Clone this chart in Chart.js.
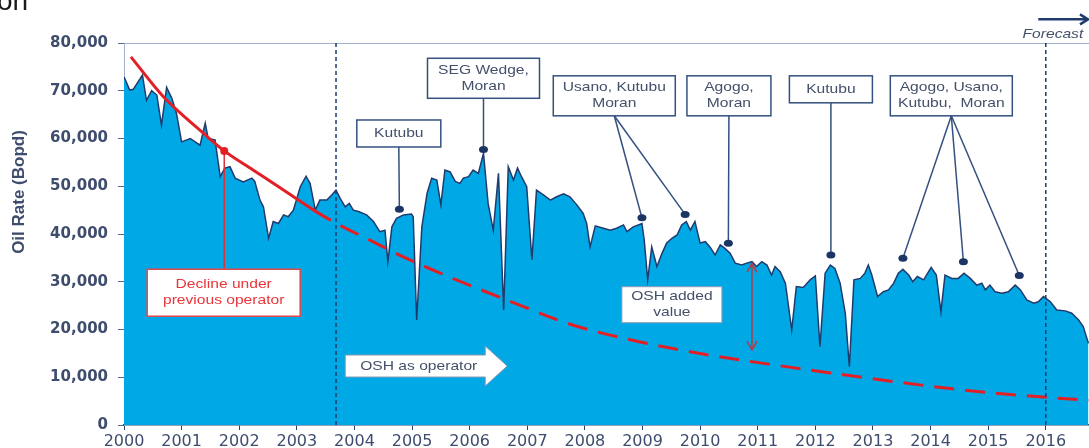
<!DOCTYPE html>
<html>
<head>
<meta charset="utf-8">
<script src="https://cdn.jsdelivr.net/npm/chart.js@4.4.1/dist/chart.umd.min.js"></script>
<style>
  html, body { margin: 0; padding: 0; background: #fff; }
  #wrap { width: 1089px; height: 448px; }
</style>
</head>
<body>
<div id="wrap"><canvas id="chart" width="1089" height="448"></canvas></div>
<script>
// oil rate (bopd), decimal years
const rateYears = [
  2000.00, 2000.10, 2000.16, 2000.32, 2000.39, 2000.48, 2000.57, 2000.65, 2000.74, 2000.83, 2000.91,
  2001.00, 2001.15, 2001.32, 2001.41, 2001.46, 2001.58, 2001.67, 2001.75, 2001.84, 2001.93,
  2002.07, 2002.22, 2002.27, 2002.36, 2002.42, 2002.51, 2002.59, 2002.68, 2002.77, 2002.85, 2002.94,
  2003.06, 2003.16, 2003.23, 2003.32, 2003.40, 2003.52, 2003.61, 2003.68, 2003.75, 2003.84, 2003.91, 2003.98,
  2004.07, 2004.21, 2004.33, 2004.44, 2004.53, 2004.58, 2004.65, 2004.73, 2004.85, 2004.99,
  2005.02, 2005.08, 2005.17, 2005.26, 2005.34, 2005.43, 2005.50, 2005.57, 2005.66, 2005.75, 2005.83, 2005.89, 2005.98,
  2006.06, 2006.15, 2006.24, 2006.32, 2006.41, 2006.50, 2006.59, 2006.67, 2006.76, 2006.83, 2006.90, 2006.99,
  2007.08, 2007.16, 2007.28, 2007.40, 2007.51, 2007.63, 2007.74, 2007.86, 2007.97,
  2008.03, 2008.09, 2008.18, 2008.32, 2008.44, 2008.55, 2008.67, 2008.73, 2008.84, 2008.99,
  2009.03, 2009.09, 2009.16, 2009.25, 2009.34, 2009.42, 2009.51, 2009.60, 2009.68, 2009.76, 2009.83, 2009.91,
  2010.00, 2010.09, 2010.17, 2010.26, 2010.35, 2010.43, 2010.52, 2010.61, 2010.72, 2010.81, 2010.90, 2010.98,
  2011.07, 2011.16, 2011.24, 2011.30, 2011.39, 2011.48, 2011.59, 2011.67, 2011.79, 2011.91,
  2012.00, 2012.08, 2012.17, 2012.26, 2012.34, 2012.43, 2012.52, 2012.59, 2012.67, 2012.78, 2012.86, 2012.92, 2012.98,
  2013.08, 2013.18, 2013.27, 2013.36, 2013.44, 2013.52, 2013.62, 2013.69, 2013.77, 2013.88,
  2014.01, 2014.10, 2014.18, 2014.25, 2014.37, 2014.48, 2014.58, 2014.69, 2014.80, 2014.89, 2014.95,
  2015.03, 2015.12, 2015.24, 2015.35, 2015.47, 2015.56, 2015.67, 2015.79, 2015.87, 2015.96,
  2016.08, 2016.19, 2016.34, 2016.45, 2016.57, 2016.65, 2016.74
];
const rateValues = [
  72900, 70150, 70300, 73300, 68000, 70000, 69100, 62800, 70700, 68400, 65300,
  59300, 60000, 58600, 63200, 60000, 59700, 52000, 53800, 54100, 51700,
  50900, 51700, 51000, 47100, 45700, 39100, 42600, 42200, 44000, 43600, 45000,
  49900, 52100, 50600, 45000, 47100, 47100, 48200, 49200, 47500, 45700, 46400, 45000,
  44700, 44000, 42600, 40500, 40800, 34200, 41500, 43300, 44000, 44200,
  43600, 22000, 41500, 48500, 51700, 51300, 46100, 53400, 53000, 51000, 50600, 51700, 52000,
  53400, 52700, 56900, 46400, 40800, 52700, 24100, 54100, 51300, 53800, 52000, 49900,
  34600, 49200, 48200, 47100, 47800, 48400, 47800, 46100, 44300,
  42200, 37300, 41700, 41200, 40800, 41200, 41900, 40500, 41500, 42200,
  38700, 30400, 37300, 33200, 36000, 38100, 39100, 39800, 41900, 42600, 40800, 42600,
  38100, 38400, 37300, 35600, 37700, 37000, 36000, 33900, 33500, 33900, 34200, 33200,
  34200, 33500, 31400, 33200, 32100, 29700, 19900, 29000, 28800, 30400,
  31200, 16400, 31800, 33500, 32800, 29700, 23400, 12200, 30400, 30700, 31800, 33500, 31400,
  26900, 27900, 28300, 29700, 31800, 32600, 31400, 30000, 31100, 30400,
  33000, 31400, 23700, 31400, 30700, 30700, 31800, 30700, 29300, 29700, 28300,
  29300, 27900, 27600, 27900, 29300, 28300, 26200, 25500, 25800, 26900,
  25800, 24100, 23900, 23400, 22000, 20600, 17100
];

// decline under previous operator (red curve)
const declineYears = [2000.12, 2000.68, 2001.38, 2001.74, 2002.24, 2002.82, 2003.29, 2003.69, 2004.27, 2004.85,
  2005.49, 2006.64, 2007.80, 2008.96, 2010.12, 2011.16, 2012.20, 2013.36, 2014.51, 2016.00, 2016.75];
const declineValues = [77100, 68800, 61100, 57400, 53400, 48800, 45000, 42200, 38700, 35200,
  31800, 26200, 20900, 17400, 14700, 12800, 11000, 9100, 7400, 5800, 5200];
const dashedFrom = 2003.29;

const yearTicks = [2000, 2001, 2002, 2003, 2004, 2005, 2006, 2007, 2008, 2009, 2010, 2011, 2012, 2013, 2014, 2015, 2016];
const rateTicks = [0, 10000, 20000, 30000, 40000, 50000, 60000, 70000, 80000];
const markerYears = [2003.68, 2016.0]; // operator change, forecast start

// callouts: box centre in data units, size in px, dots in data units
const callouts = [
  { lines: ['Kutubu'], at: [2004.77, 61050], w: 84, h: 27, dots: [[2004.78, 45200]] },
  { lines: ['SEG Wedge,', 'Moran'], at: [2006.24, 72610], w: 112, h: 40, dots: [[2006.24, 57700]] },
  { lines: ['Usano, Kutubu', 'Moran'], at: [2008.51, 68940], w: 122, h: 40, dots: [[2008.99, 43400], [2009.74, 44100]] },
  { lines: ['Agogo,', 'Moran'], at: [2010.50, 68940], w: 84, h: 40, dots: [[2010.49, 38050]] },
  { lines: ['Kutubu'], at: [2012.27, 70300], w: 83, h: 27, dots: [[2012.27, 35600]] },
  { lines: ['Agogo, Usano,', 'Kutubu,  Moran'], at: [2014.36, 68940], w: 122, h: 40,
    dots: [[2013.52, 34900], [2014.57, 34200], [2015.54, 31300]] }
];
const declineNote = { lines: ['Decline under', 'previous operator'], at: [2001.73, 27700], w: 153, h: 47, dot: [2001.74, 57400] };
const addedNote = { lines: ['OSH added', 'value'], at: [2009.51, 25190], w: 100, h: 36 };
const addedArrow = { x: 2010.9, from: 33860, to: 15700 };
const operatorArrow = { at: [2003.84, 12350], body: 140, bodyH: 22, head: 22, headH: 40, text: 'OSH as operator' };
const forecastArrow = { from: [2015.87, 84960], to: [2016.75, 84960], label: [2016.65, 81700] };

const NAVY = '#1f3b6d';
const SLATE = '#3e4c6d';
const TEXT = '#44506a';
const RED = '#e31f26';
const SANS = '"Liberation Sans", Arial, sans-serif';

function wideText(ctx, str, px, py, align) {
  ctx.save();
  ctx.translate(px, py);
  ctx.scale(1.2, 1);
  ctx.textAlign = align || 'center';
  ctx.textBaseline = 'middle';
  ctx.fillText(str, 0, 0);
  ctx.restore();
}

function drawBox(ctx, cx, cy, w, h, lines, stroke, lw, color) {
  ctx.fillStyle = '#fff';
  ctx.fillRect(cx - w / 2, cy - h / 2, w, h);
  ctx.strokeStyle = stroke;
  ctx.lineWidth = lw;
  ctx.strokeRect(cx - w / 2, cy - h / 2, w, h);
  ctx.fillStyle = color;
  ctx.font = '13px ' + SANS;
  const off = (lines.length - 1) * 8;
  lines.forEach((s, i) => wideText(ctx, s, cx, cy - off + i * 16));
}

function seg(ctx, x1, y1, x2, y2) {
  ctx.beginPath();
  ctx.moveTo(x1, y1);
  ctx.lineTo(x2, y2);
  ctx.stroke();
}

const overlay = {
  id: 'overlay',
  afterDatasetsDraw(chart) {
    const { ctx, chartArea: a, scales: { x } } = chart;
    ctx.save();
    ctx.strokeStyle = NAVY;
    ctx.lineWidth = 1.5;
    ctx.setLineDash([4, 3]);
    markerYears.forEach(yr => {
      const px = x.getPixelForValue(yr);
      seg(ctx, px, a.top, px, a.bottom);
    });
    ctx.restore();
  },
  afterDraw(chart) {
    const { ctx, scales: { x, y } } = chart;
    const P = pt => [x.getPixelForValue(pt[0]), y.getPixelForValue(pt[1])];
    ctx.save();

    // cut-off slide title
    ctx.fillStyle = '#1a1a1a';
    ctx.font = '28px ' + SANS;
    ctx.textAlign = 'left';
    ctx.textBaseline = 'alphabetic';
    ctx.fillText('on', -3, 10);

    // y axis title
    ctx.save();
    ctx.translate(19, 192);
    ctx.rotate(-Math.PI / 2);
    ctx.fillStyle = SLATE;
    ctx.font = 'bold 17px ' + SANS;
    ctx.textAlign = 'center';
    ctx.textBaseline = 'middle';
    ctx.fillText('Oil Rate (Bopd)', 0, 0);
    ctx.restore();

    // callouts with leaders and dots
    callouts.forEach(c => {
      const [cx, cy] = P(c.at);
      ctx.strokeStyle = '#34507f';
      ctx.lineWidth = 1.5;
      c.dots.forEach(d => {
        const [dx, dy] = P(d);
        seg(ctx, cx, cy + c.h / 2, dx, dy);
      });
      c.dots.forEach(d => {
        const [dx, dy] = P(d);
        ctx.fillStyle = '#1d3565';
        ctx.beginPath();
        ctx.ellipse(dx, dy, 4.5, 3.5, 0, 0, Math.PI * 2);
        ctx.fill();
      });
      drawBox(ctx, cx, cy, c.w, c.h, c.lines, '#34507f', 1.5, TEXT);
    });

    // decline note
    {
      const [cx, cy] = P(declineNote.at);
      const [dx, dy] = P(declineNote.dot);
      ctx.strokeStyle = '#d8343a';
      ctx.lineWidth = 1.5;
      seg(ctx, dx, dy, dx, cy - declineNote.h / 2);
      ctx.fillStyle = RED;
      ctx.beginPath();
      ctx.arc(dx, dy, 4, 0, Math.PI * 2);
      ctx.fill();
      drawBox(ctx, cx, cy, declineNote.w, declineNote.h, declineNote.lines, '#e0484c', 1.5, '#e8363a');
    }

    // OSH added value note and double arrow
    {
      const [cx, cy] = P(addedNote.at);
      drawBox(ctx, cx, cy, addedNote.w, addedNote.h, addedNote.lines, '#8e9bb3', 1, TEXT);
      const ax = x.getPixelForValue(addedArrow.x);
      const y1 = y.getPixelForValue(addedArrow.from);
      const y2 = y.getPixelForValue(addedArrow.to);
      ctx.strokeStyle = '#b43a44';
      ctx.lineWidth = 1.5;
      seg(ctx, ax, y1, ax, y2);
      ctx.beginPath();
      ctx.moveTo(ax - 5, y1 + 9); ctx.lineTo(ax, y1); ctx.lineTo(ax + 5, y1 + 9);
      ctx.moveTo(ax - 5, y2 - 9); ctx.lineTo(ax, y2); ctx.lineTo(ax + 5, y2 - 9);
      ctx.stroke();
    }

    // OSH as operator block arrow
    {
      const o = operatorArrow;
      const [x0, ym] = P(o.at);
      ctx.beginPath();
      ctx.moveTo(x0, ym - o.bodyH / 2);
      ctx.lineTo(x0 + o.body, ym - o.bodyH / 2);
      ctx.lineTo(x0 + o.body, ym - o.headH / 2);
      ctx.lineTo(x0 + o.body + o.head, ym);
      ctx.lineTo(x0 + o.body, ym + o.headH / 2);
      ctx.lineTo(x0 + o.body, ym + o.bodyH / 2);
      ctx.lineTo(x0, ym + o.bodyH / 2);
      ctx.closePath();
      ctx.fillStyle = '#fff';
      ctx.fill();
      ctx.strokeStyle = '#8a97b0';
      ctx.lineWidth = 1;
      ctx.stroke();
      ctx.fillStyle = TEXT;
      ctx.font = '13px ' + SANS;
      wideText(ctx, o.text, x0 + 15, ym, 'left');
    }

    // forecast arrow
    {
      const [fx1, fy] = P(forecastArrow.from);
      const [fx2] = P(forecastArrow.to);
      ctx.strokeStyle = NAVY;
      ctx.lineWidth = 2.5;
      seg(ctx, fx1, fy, fx2 - 1, fy);
      ctx.beginPath();
      ctx.moveTo(fx2 - 9, fy - 5); ctx.lineTo(fx2 - 1, fy); ctx.lineTo(fx2 - 9, fy + 5);
      ctx.stroke();
      const [lx, ly] = P(forecastArrow.label);
      ctx.fillStyle = TEXT;
      ctx.font = 'italic 13px ' + SANS;
      wideText(ctx, 'Forecast', lx, ly, 'right');
    }

    ctx.restore();
  }
};

new Chart(document.getElementById('chart'), {
  type: 'line',
  data: {
    datasets: [
      {
        data: declineYears.map((v, i) => ({ x: v, y: declineValues[i] })),
        borderColor: RED,
        borderWidth: 3,
        pointRadius: 0,
        fill: false,
        cubicInterpolationMode: 'monotone',
        segment: { borderDash: c => c.p0.parsed.x >= dashedFrom ? [20, 11] : undefined },
        order: 1
      },
      {
        data: rateYears.map((v, i) => ({ x: v, y: rateValues[i] })),
        borderColor: NAVY,
        borderWidth: 1.5,
        backgroundColor: '#00a9e6',
        fill: 'origin',
        pointRadius: 0,
        tension: 0,
        order: 2
      }
    ]
  },
  options: {
    responsive: false,
    animation: false,
    layout: { padding: { top: 43, left: 0, right: 0, bottom: 0 } },
    plugins: { legend: { display: false }, tooltip: { enabled: false } },
    scales: {
      x: {
        type: 'linear',
        min: 2000,
        max: 2016.75,
        z: 1,
        afterBuildTicks: s => { s.ticks = yearTicks.map(v => ({ value: v })); },
        afterFit: s => { s.height = 23; },
        grid: { drawOnChartArea: false, tickLength: 5, tickColor: '#2d4470' },
        border: { color: '#2d4470', width: 1.5 },
        ticks: {
          padding: 2,
          color: SLATE,
          maxRotation: 0,
          autoSkip: false,
          font: { family: '"DejaVu Sans", sans-serif', size: 16 },
          callback: v => String(v)
        }
      },
      y: {
        min: 0,
        max: 80000,
        z: 1,
        afterBuildTicks: s => { s.ticks = rateTicks.map(v => ({ value: v })); },
        afterFit: s => { s.width = 124; },
        grid: {
          color: c => (c.tick && c.tick.value === 80000) ? '#9fb0cc' : 'rgba(0,0,0,0)',
          tickLength: 6,
          tickColor: '#5a6a8a'
        },
        border: { color: '#9fb0cc', width: 1 },
        ticks: {
          padding: 10,
          color: SLATE,
          font: { family: '"DejaVu Sans", sans-serif', size: 15, weight: 'bold' },
          callback: v => v.toLocaleString('en-US')
        }
      }
    }
  },
  plugins: [overlay]
});
</script>
</body>
</html>
